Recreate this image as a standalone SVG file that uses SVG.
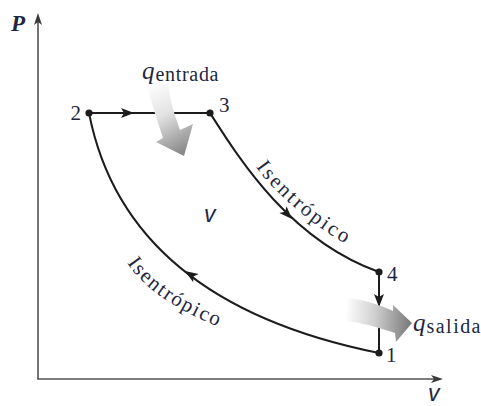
<svg xmlns="http://www.w3.org/2000/svg" width="481" height="406" viewBox="0 0 481 406">
<style>
.ax{stroke:#505050;stroke-width:1.6;fill:none}
.cy{stroke:#1c1c1c;stroke-width:2;fill:none}
.lab{font-family:'Liberation Serif','DejaVu Serif','Times New Roman',serif;fill:#1f2740}
.num{font-size:21px}
.it{font-family:'Liberation Sans','DejaVu Sans',Arial,sans-serif;font-style:italic;font-size:23px;fill:#1f2740}
.dot{fill:#1c1c1c}
.ah{fill:#1c1c1c}
</style>
<defs>
<path id="ah" d="M0,0 L-13,-5 L-10,0 L-13,5 Z"/>
<path id="axh" d="M0,0 L-12,-4 L-9,0 L-12,4 Z"/>
<linearGradient id="gIn" gradientUnits="userSpaceOnUse" x1="150" y1="84" x2="186" y2="150">
<stop offset="0" stop-color="#ffffff"/>
<stop offset="0.45" stop-color="#e2e2e2"/>
<stop offset="1" stop-color="#8a8a8a"/>
</linearGradient>
<linearGradient id="gOut" gradientUnits="userSpaceOnUse" x1="345" y1="315" x2="410" y2="320">
<stop offset="0" stop-color="#ffffff"/>
<stop offset="0.45" stop-color="#d0d0d0"/>
<stop offset="1" stop-color="#7c7c7c"/>
</linearGradient>
<path id="tpUp" d="M256,167 C272,190 312,226 348,245"/>
<path id="tpLo" d="M127,263 C145,290 180,312 222,328"/>
</defs>

<g id="axes">
<line class="ax" x1="38" y1="379" x2="38" y2="22"/>
<use href="#axh" transform="translate(38,13) rotate(-90)" fill="#3a3a3a"/>
<line class="ax" x1="37.2" y1="379" x2="434" y2="379"/>
<use href="#axh" transform="translate(443,379)" fill="#3a3a3a"/>
<text class="lab" x="11" y="31" font-size="23" font-weight="bold" font-style="italic">P</text>
<text class="it" x="428" y="401">v</text>
</g>

<g id="connectors">
<path id="e23" class="cy" d="M89,113 L210,113"/>
<path id="e34" class="cy" d="M210,113 C240,160 290,240 379,272"/>
<path id="e41" class="cy" d="M379,272 L379,353"/>
<path id="e21" class="cy" d="M89,113 C108,210 175,312 379,353"/>
<use href="#ah" class="ah" transform="translate(134,113)"/>
<use href="#ah" class="ah" transform="translate(292,219) rotate(46)"/>
<use href="#ah" class="ah" transform="translate(379,307) rotate(90)"/>
<use href="#ah" class="ah" transform="translate(185,271) rotate(213)"/>
</g>

<g id="n2"><circle class="dot" cx="89" cy="113" r="3.6"/><text class="lab num" x="81" y="120" text-anchor="end">2</text></g>
<g id="n3"><circle class="dot" cx="210" cy="113" r="3.6"/><text class="lab num" x="219" y="112">3</text></g>
<g id="n4"><circle class="dot" cx="379" cy="272" r="3.6"/><text class="lab num" x="387" y="281">4</text></g>
<g id="n1"><circle class="dot" cx="379" cy="353" r="3.6"/><text class="lab num" x="386" y="362">1</text></g>

<g id="qin">
<path d="M147,84 L168,84 C170,100 174,114 180,130 L193,124 L184,156 L156,142 L163,138 C157,120 151,102 147,84 Z" fill="url(#gIn)"/>
<text class="lab" x="142" y="79"><tspan font-size="25" font-style="italic">q</tspan><tspan font-size="20" dx="1" dy="2" textLength="63">entrada</tspan></text>
</g>

<g id="qout">
<path d="M349,298 C365,300 380,305 393,311 L393,305 L412,323 L396,342 L395,333 C380,328 360,322 345,321 C342,312 344,303 349,298 Z" fill="url(#gOut)"/>
<text class="lab" x="413" y="331"><tspan font-size="25" font-style="italic">q</tspan><tspan font-size="20" dx="1" dy="2" textLength="54">salida</tspan></text>
</g>

<g id="labels">
<text class="lab" font-size="21"><textPath href="#tpUp" textLength="118" lengthAdjust="spacing">Isentrópico</textPath></text>
<text class="lab" font-size="21"><textPath href="#tpLo" textLength="112" lengthAdjust="spacing">Isentrópico</textPath></text>
<text class="it" x="204" y="222">v</text>
</g>
</svg>
